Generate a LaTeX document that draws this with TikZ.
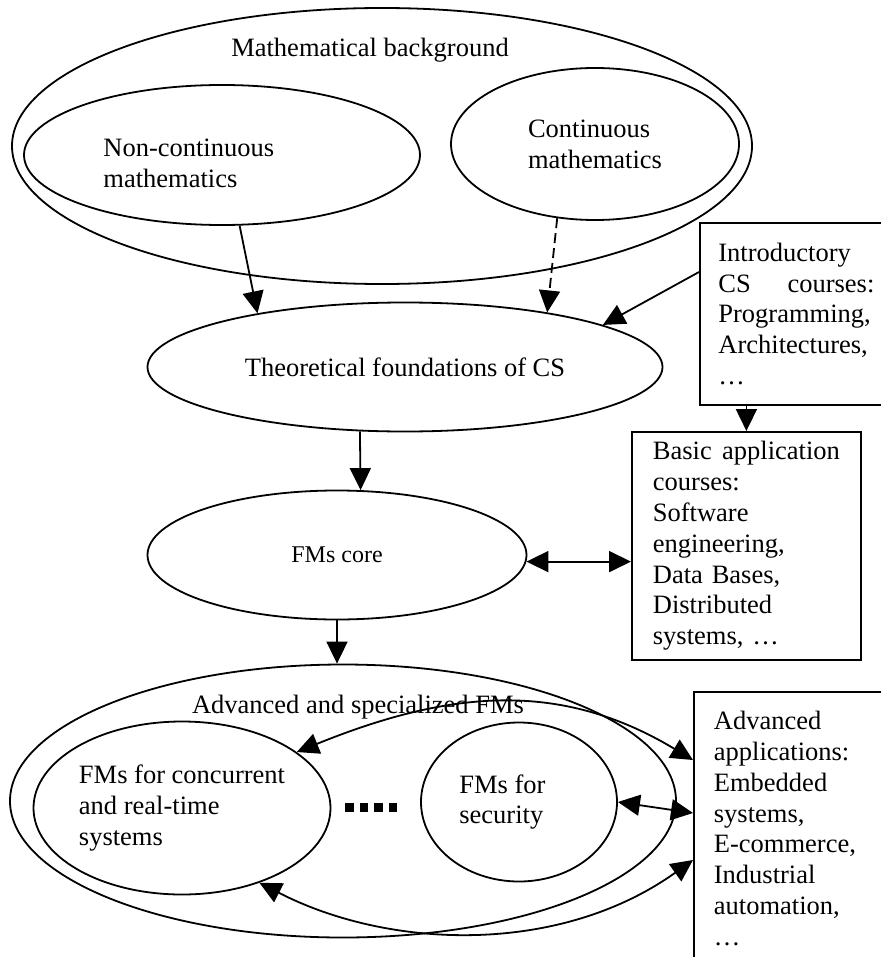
\documentclass[tikz,border=0pt]{standalone}
\usepackage{fontspec}
\setmainfont{Liberation Serif}
\usetikzlibrary{arrows.meta,shapes.geometric}

\begin{document}
\begin{tikzpicture}[
    x=0.5pt, y=-0.5pt,
    txt/.style={font=\fontsize{13.25}{15.4}\selectfont, inner sep=0pt},
    oval/.style={ellipse, draw, line width=0.9pt, txt, inner sep=0pt, align=left},
    course/.style={rectangle, draw, line width=0.9pt, anchor=north west, txt, inner ysep=0pt, align=left},
    link/.style={-{Triangle[length=11pt,width=10.5pt]}, line width=0.9pt},
    twoway/.style={{Triangle[length=11pt,width=10.5pt]}-{Triangle[length=11pt,width=10.5pt]}, line width=0.9pt}
]
    \useasboundingbox (0,0) rectangle (881,957);
    \clip (0,0) rectangle (881,957);

    \node (math) [oval, minimum width=370pt, minimum height=138pt] at (382,146) {};
    \node (mathlbl) [txt] at (370,50) {Mathematical background};
    \node (noncont) [oval, minimum width=198pt, minimum height=70pt] at (222,155) {};
    \node (noncontlbl) [txt, align=left, anchor=west] at (103,163) {Non-continuous\\mathematics};
    \node (cont) [oval, minimum width=144pt, minimum height=76pt] at (595,144) {Continuous\\mathematics};
    \node (theo) [oval, minimum width=257.5pt, minimum height=64.5pt] at (405,367) {Theoretical foundations of CS};
    \node (core) [oval, minimum width=189.5pt, minimum height=64.5pt, font=\fontsize{12}{14}\selectfont] at (337,555) {FMs core};
    \node (adv) [oval, minimum width=333pt, minimum height=136.5pt] at (343,801) {};
    \node (advlbl) [txt] at (358,707) {Advanced and specialized FMs};
    \node (conc) [oval, minimum width=148.5pt, minimum height=86.5pt] at (182,808) {FMs for concurrent\\and real-time\\systems};
    \node (sec) [oval, minimum width=98pt, minimum height=79.5pt] at (519,802) {};
    \node (seclbl) [txt, align=left, anchor=west] at (459,802) {FMs for\\security};

    \node (intro) [course, text width=78pt, inner xsep=9.25pt, minimum height=91pt] at (699,222) {Introductory\\CS\hfill courses:\\Programming,\\Architectures,\\…};
    \node (basic) [course, text width=93.5pt, inner xsep=10.5pt, minimum height=114pt] at (631,431) {Basic\hfill application\\courses:\\Software\\engineering,\\Data Bases,\\Distributed\\systems, …};
    \node (app) [course, text width=100pt, inner xsep=10pt, minimum height=136.5pt] at (693,691) {Advanced\\applications:\\Embedded\\systems,\\E-commerce,\\Industrial\\automation,\\…};

    \foreach \i in {0,...,3}
        \fill (345+14.5*\i,803) rectangle ++(8.5,8.5);

    \draw[link] (noncont.284) -- (theo.160);
    \draw[link, dash pattern=on 5pt off 2.5pt] (cont.243) -- (theo.21);
    \draw[link] ([yshift=-25pt]intro.north west) -- (theo.12);
    \draw[link] (basic.north |- intro.south) -- (basic.north);
    \draw[link] (theo.235) -- (core.70);
    \draw[twoway] (core.358) -- (core.358 -| basic.west);
    \draw[link] (core.south) -- (core.south |- adv.north);
    \draw[twoway] (conc.26) .. controls (450,690) and (560,680) .. ([yshift=-34.5pt]app.north west);
    \draw[twoway] (sec.east) -- ([yshift=-61pt]app.north west);
    \draw[twoway] (conc.316) .. controls (390,950) and (560,955) .. ([yshift=-84.5pt]app.north west);
\end{tikzpicture}
\end{document}
